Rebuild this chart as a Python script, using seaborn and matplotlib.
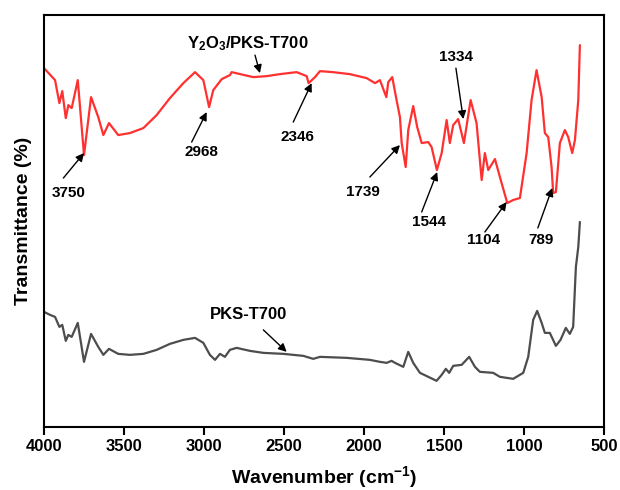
import pandas as pd
import matplotlib
matplotlib.use('Agg')
import matplotlib.pyplot as plt
import seaborn as sns

# espectro FTIR (unidades arbitrarias de transmitancia)
onda_y2o3 = [4000, 3931, 3904, 3886, 3864, 3848, 3827, 3789, 3750, 3706, 3661, 3629,
             3594, 3536, 3463, 3379, 3296, 3213, 3129, 3056, 3004, 2968, 2942, 2889,
             2838, 2827, 2692, 2608, 2525, 2421, 2358, 2346, 2306, 2275, 2194, 2088,
             1983, 1931, 1900, 1860, 1848, 1823, 1796, 1775, 1764, 1739, 1723, 1692,
             1667, 1639, 1598, 1577, 1544, 1514, 1483, 1463, 1442, 1411, 1375, 1333,
             1296, 1264, 1244, 1223, 1181, 1150, 1104, 1067, 1025, 983, 952, 921,
             889, 869, 848, 827, 817, 800, 775, 744, 723, 698, 681, 660, 650]
trans_y2o3 = [359, 347, 324, 336, 309, 322, 319, 347, 272, 330, 310, 292,
              304, 292, 294, 299, 312, 329, 344, 355, 347, 320, 337, 348,
              352, 355, 350, 351, 353, 355, 351, 344, 350, 356, 355, 353,
              349, 344, 347, 330, 345, 350, 327, 310, 284, 260, 297, 321,
              300, 284, 285, 280, 257, 274, 307, 284, 302, 308, 284, 327,
              304, 247, 274, 257, 268, 250, 224, 227, 229, 274, 327, 357,
              330, 294, 290, 260, 234, 235, 284, 297, 290, 274, 287, 327, 382]

onda_pks = [4000, 3962, 3931, 3904, 3886, 3864, 3848, 3827, 3789, 3750, 3706, 3661,
            3629, 3594, 3536, 3463, 3379, 3296, 3213, 3129, 3056, 3004, 2963, 2931,
            2900, 2869, 2838, 2796, 2713, 2629, 2504, 2379, 2317, 2275, 2108, 1963,
            1900, 1858, 1827, 1806, 1754, 1723, 1692, 1650, 1598, 1546, 1514, 1488,
            1467, 1442, 1389, 1342, 1306, 1275, 1192, 1150, 1067, 1004, 973, 942,
            917, 889, 869, 838, 800, 771, 738, 713, 692, 675, 660, 650]
trans_pks = [115, 112, 110, 100, 102, 86, 92, 90, 104, 65, 93, 80,
             72, 78, 73, 72, 73, 77, 83, 87, 89, 84, 72, 67,
             73, 70, 77, 79, 76, 74, 73, 71, 68, 70, 69, 67,
             65, 64, 66, 64, 60, 75, 64, 54, 50, 46, 52, 58,
             54, 61, 62, 70, 60, 55, 54, 50, 48, 54, 70, 107,
             116, 104, 94, 94, 81, 87, 99, 93, 100, 160, 180, 205]

# rotulos dos picos: texto, (x, y) do texto, cauda e ponta da seta
picos = ['3750', '2968', '2346', '1739', '1544', '1334', '1104', '789']
pos_texto = [(3847, 234), (3019, 275), (2416, 290), (2006, 235),
             (1594, 205), (1425, 370), (1250, 187), (894, 187)]
cauda = [(3879, 249), (3077, 285), (2442, 305), (1963, 250),
         (1639, 215), (1425, 359), (1244, 195), (913, 199)]
ponta = [(3750, 274), (2983, 315), (2327, 344), (1775, 282),
         (1542, 255), (1379, 308), (1108, 225), (823, 239)]


def montar_df():
    a = pd.DataFrame({'Onda': onda_y2o3, 'T': trans_y2o3, 'Amostra': 'Y2O3/PKS-T700'})
    b = pd.DataFrame({'Onda': onda_pks, 'T': trans_pks, 'Amostra': 'PKS-T700'})
    return pd.concat([a, b], ignore_index=True)


def plotar(df):
    sns.set_style('ticks')
    plt.rcParams['font.family'] = ['Liberation Sans', 'DejaVu Sans']
    plt.rcParams['mathtext.default'] = 'regular'
    plt.rcParams['text.color'] = 'black'
    plt.rcParams['axes.labelcolor'] = 'black'
    plt.rcParams['xtick.color'] = 'black'

    fig = plt.figure(figsize=(6.2, 4.9), dpi=100)
    ax = fig.add_axes([0.071, 0.129, 0.903, 0.840])

    sns.lineplot(data=df, x='Onda', y='T', hue='Amostra',
                 palette={'Y2O3/PKS-T700': '#ff3030', 'PKS-T700': '#4d4d4d'},
                 estimator=None, linewidth=1.6, legend=False, ax=ax)

    ax.set_xlim(4000, 500)
    ax.set_ylim(0, 412)
    ax.set_xticks([4000, 3500, 3000, 2500, 2000, 1500, 1000, 500])
    ax.set_yticks([])
    for lab in ax.get_xticklabels():
        lab.set_fontweight('bold')
    ax.tick_params(axis='x', direction='out', length=6, width=1.5,
                   labelsize=12, pad=3, colors='black')
    for s in ax.spines.values():
        s.set_visible(True)
        s.set_linewidth(1.5)
        s.set_color('black')

    ax.set_xlabel('Wavenumber (cm$^{-1}$)', fontsize=14, fontweight='bold', labelpad=7)
    ax.set_ylabel('Transmittance (%)', fontsize=14, fontweight='bold', labelpad=9)

    seta = dict(arrowstyle='-|>', color='black', lw=1.0, mutation_scale=12,
                shrinkA=0, shrinkB=0)
    for txt, p, c, t in zip(picos, pos_texto, cauda, ponta):
        ax.text(p[0], p[1], txt, ha='center', va='center', fontsize=11,
                fontweight='bold', color='black')
        ax.annotate('', xy=t, xytext=c, arrowprops=seta)

    ax.text(2725, 384, 'Y$_2$O$_3$/PKS-T700', ha='center', va='center',
            fontsize=12, fontweight='bold', color='black')
    ax.annotate('', xy=(2650, 354), xytext=(2681, 372), arrowprops=seta)
    ax.text(2721, 112, 'PKS-T700', ha='center', va='center',
            fontsize=12, fontweight='bold', color='black')
    ax.annotate('', xy=(2483, 75), xytext=(2629, 97), arrowprops=seta)

    fig.savefig('out.png', dpi=100)
    plt.close(fig)


if __name__ == '__main__':
    plotar(montar_df())
